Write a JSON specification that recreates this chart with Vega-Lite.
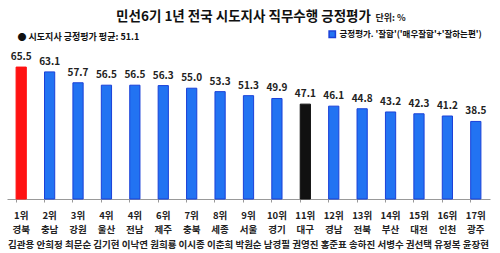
{
  "$schema": "https://vega.github.io/schema/vega-lite/v6.json",
  "autosize": {"type": "none"},
  "width": 483,
  "height": 141,
  "padding": {"left": 7, "top": 58, "right": 10, "bottom": 54},
  "background": "white",
  "config": {"view": {"stroke": null}, "font": "Noto Sans CJK KR"},
  "title": {
    "text": "민선6기 1년 전국 시도지사 직무수행 긍정평가",
    "fontSize": 13.5,
    "fontWeight": "bold",
    "color": "#111",
    "anchor": "middle",
    "frame": "group",
    "dx": -5,
    "dy": 12,
    "offset": 2,
    "font": "Noto Sans CJK KR"
  },
  "data": {
    "values": [
      {"rank": "1위", "region": "경북", "name": "김관용", "value": 65.5, "group": "1위"},
      {"rank": "2위", "region": "충남", "name": "안희정", "value": 63.1, "group": "긍정평가. '잘함'('매우잘함'+'잘하는편')"},
      {"rank": "3위", "region": "강원", "name": "최문순", "value": 57.7, "group": "긍정평가. '잘함'('매우잘함'+'잘하는편')"},
      {"rank": "4위", "region": "울산", "name": "김기현", "value": 56.5, "group": "긍정평가. '잘함'('매우잘함'+'잘하는편')"},
      {"rank": "4위", "region": "전남", "name": "이낙연", "value": 56.5, "group": "긍정평가. '잘함'('매우잘함'+'잘하는편')"},
      {"rank": "6위", "region": "제주", "name": "원희룡", "value": 56.3, "group": "긍정평가. '잘함'('매우잘함'+'잘하는편')"},
      {"rank": "7위", "region": "충북", "name": "이시종", "value": 55.0, "group": "긍정평가. '잘함'('매우잘함'+'잘하는편')"},
      {"rank": "8위", "region": "세종", "name": "이춘희", "value": 53.3, "group": "긍정평가. '잘함'('매우잘함'+'잘하는편')"},
      {"rank": "9위", "region": "서울", "name": "박원순", "value": 51.3, "group": "긍정평가. '잘함'('매우잘함'+'잘하는편')"},
      {"rank": "10위", "region": "경기", "name": "남경필", "value": 49.9, "group": "긍정평가. '잘함'('매우잘함'+'잘하는편')"},
      {"rank": "11위", "region": "대구", "name": "권영진", "value": 47.1, "group": "대구"},
      {"rank": "12위", "region": "경남", "name": "홍준표", "value": 46.1, "group": "긍정평가. '잘함'('매우잘함'+'잘하는편')"},
      {"rank": "13위", "region": "전북", "name": "송하진", "value": 44.8, "group": "긍정평가. '잘함'('매우잘함'+'잘하는편')"},
      {"rank": "14위", "region": "부산", "name": "서병수", "value": 43.2, "group": "긍정평가. '잘함'('매우잘함'+'잘하는편')"},
      {"rank": "15위", "region": "대전", "name": "권선택", "value": 42.3, "group": "긍정평가. '잘함'('매우잘함'+'잘하는편')"},
      {"rank": "16위", "region": "인천", "name": "유정복", "value": 41.2, "group": "긍정평가. '잘함'('매우잘함'+'잘하는편')"},
      {"rank": "17위", "region": "광주", "name": "윤장현", "value": 38.5, "group": "긍정평가. '잘함'('매우잘함'+'잘하는편')"}
    ]
  },
  "transform": [
    {"calculate": "datum.rank + '|' + datum.region + '|' + datum.name", "as": "key"}
  ],
  "encoding": {
    "x": {
      "field": "key",
      "type": "nominal",
      "sort": null,
      "scale": {"paddingInner": 0.64, "paddingOuter": 0.32},
      "axis": {
        "title": "단위: %",
        "titleFontSize": 9,
        "titleFontWeight": "bold",
        "titleColor": "#222",
        "titleAnchor": "start",
        "titleAlign": "left",
        "titleBaseline": "middle",
        "titleX": 368,
        "titleY": -182,
        "labelExpr": "split(datum.label, '|')",
        "labelAngle": 0,
        "labelFontSize": 9.5,
        "labelFontWeight": "bold",
        "labelColor": "#222",
        "labelLineHeight": 14.5,
        "labelPadding": 8,
        "labelBaseline": "top",
        "domainColor": "#999",
        "tickColor": "#999",
        "tickSize": 3,
        "bandPosition": 0,
        "labelBound": false,
        "labelOverlap": false
      }
    },
    "y": {
      "field": "value",
      "type": "quantitative",
      "scale": {"domain": [0, 70], "nice": false},
      "axis": {
        "title": "● 시도지사 긍정평가 평균: 51.1",
        "titleAngle": 0,
        "titleFontSize": 9,
        "titleFontWeight": "bold",
        "titleColor": "#111",
        "titleAlign": "left",
        "titleBaseline": "middle",
        "titleX": 10,
        "titleY": -22,
        "labels": false,
        "ticks": false,
        "domain": false,
        "grid": false
      }
    }
  },
  "layer": [
    {
      "mark": {"type": "bar", "strokeWidth": 1},
      "encoding": {
        "color": {
          "field": "group",
          "type": "nominal",
          "scale": {
            "domain": ["1위", "대구", "긍정평가. '잘함'('매우잘함'+'잘하는편')"],
            "range": ["#ff1212", "#111111", "#2273f2"]
          },
          "legend": {
            "values": ["긍정평가. '잘함'('매우잘함'+'잘하는편')"],
            "title": null,
            "orient": "none",
            "legendX": 321,
            "legendY": -28,
            "symbolType": "square",
            "symbolSize": 40,
            "symbolStrokeColor": "#1a40d8",
            "labelFontSize": 8.5,
            "labelFontWeight": "bold",
            "labelColor": "#111",
            "labelOffset": 3
          }
        },
        "stroke": {
          "field": "group",
          "type": "nominal",
          "scale": {
            "domain": ["1위", "대구", "긍정평가. '잘함'('매우잘함'+'잘하는편')"],
            "range": ["#ff1212", "#111111", "#1a40d8"]
          },
          "legend": null
        }
      }
    },
    {
      "mark": {"type": "text", "dy": -5, "fontSize": 10, "fontWeight": "bold", "color": "#222", "baseline": "bottom"},
      "encoding": {
        "text": {"field": "value", "type": "quantitative", "format": ".1f"}
      }
    }
  ]
}
